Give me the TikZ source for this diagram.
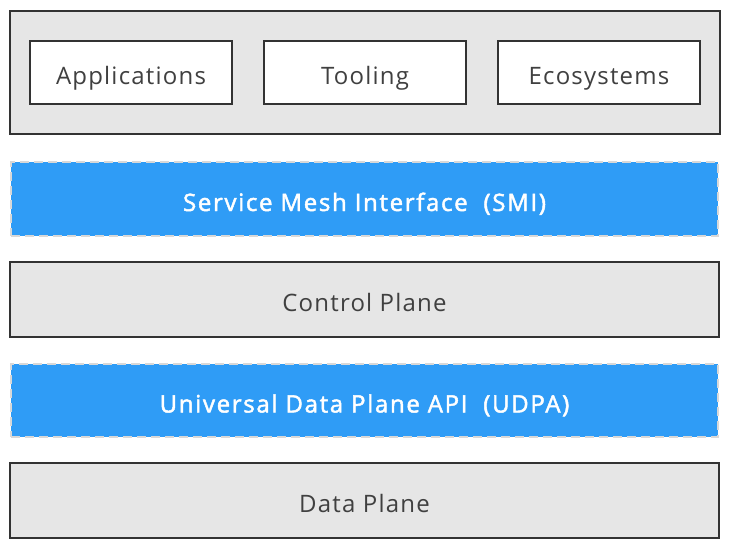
\documentclass[tikz,border=0pt]{standalone}
\usepackage{fontspec}
\setmainfont{Open Sans}[LetterSpace=5]
\definecolor{boxgray}{HTML}{E6E6E6}
\definecolor{edge}{HTML}{333333}
\definecolor{txt}{HTML}{404040}
\definecolor{bluefill}{HTML}{2F9CF6}
\definecolor{dashc}{HTML}{D8D8D8}
\begin{document}
\begin{tikzpicture}[x=1pt,y=-1pt,
  layer/.style={draw=edge,line width=2.5pt,fill=boxgray,text=txt},
  inner/.style={draw=edge,line width=2.5pt,fill=white,text=txt},
  bluebar/.style={draw=dashc,line width=1.8pt,dash pattern=on 9pt off 5pt,fill=bluefill,text=white},
  lbl/.style={font=\fontsize{24}{28}\selectfont,text height=26pt,text depth=2pt},
  boldlbl/.style={lbl,font=\fontsize{24}{28}\selectfont\addfontfeature{FakeBold=2,LetterSpace=7}}]
\useasboundingbox (0,0) rectangle (730,548);
\draw[layer] (10,11) rectangle (720,134);
\node[inner,minimum width=202pt,minimum height=63pt,lbl] (app) at (131,72.5) {Applications};
\node[inner,minimum width=202pt,minimum height=63pt,lbl] (tool) at (365,72.5) {Tooling};
\node[inner,minimum width=202pt,minimum height=63pt,lbl] (eco) at (599,72.5) {Ecosystems};
\node[bluebar,minimum width=707pt,minimum height=74pt,boldlbl] (smi) at (364.5,199) {Service Mesh Interface\ \ (SMI)};
\node[layer,minimum width=709pt,minimum height=75pt,lbl] (cp) at (364.5,299.5) {Control Plane};
\node[bluebar,minimum width=707pt,minimum height=73pt,boldlbl] (udpa) at (364.5,400.5) {Universal Data Plane API\ \ (UDPA)};
\node[layer,minimum width=709pt,minimum height=75pt,lbl] (dp) at (364.5,500.5) {Data Plane};
\end{tikzpicture}
\end{document}
